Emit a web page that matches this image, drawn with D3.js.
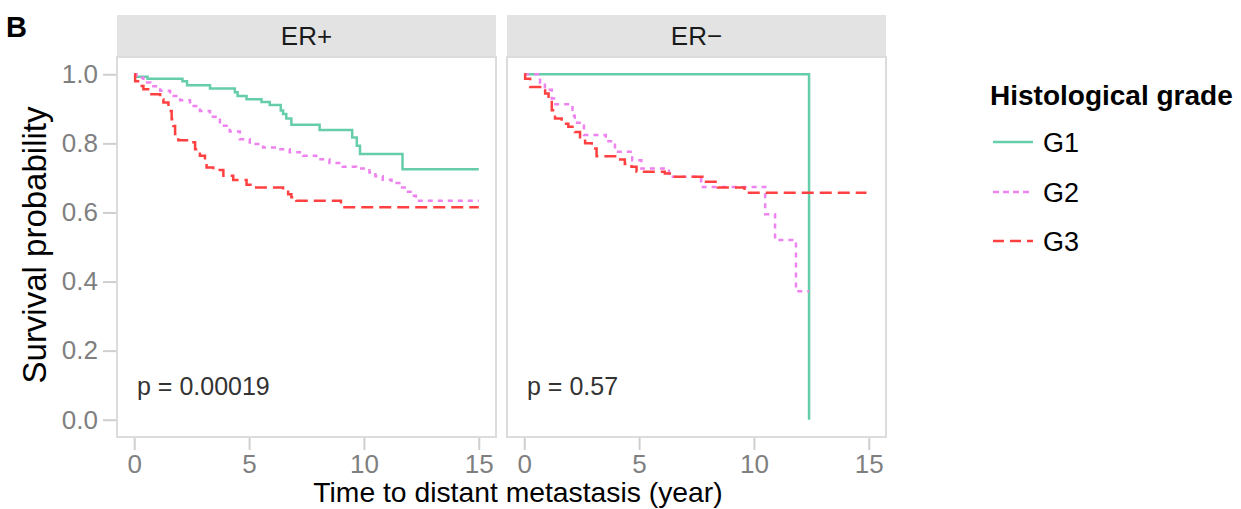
<!DOCTYPE html>
<html><head><meta charset="utf-8">
<script src="https://cdn.jsdelivr.net/npm/d3@7"></script>
<style>body{margin:0;background:#fff}svg{display:block}text{font-family:"Liberation Sans",Arial,Helvetica,sans-serif}</style>
</head><body><div id="chart"></div>
<script>
const panels = ["ER+", "ER\u2212"];
const groups = ["G1", "G2", "G3"];
const pValues = ["p = 0.00019", "p = 0.57"];
const xTicks = [0, 5, 10, 15];
const yTicks = [0, 0.2, 0.4, 0.6, 0.8, 1.0];

// ER+ panel
const erPosG1Time = [0, 0.05, 0.58, 2.1, 2.3, 3.3, 4.38, 4.5, 4.89, 5.54, 5.9, 6.38, 6.48, 6.62, 6.84, 8.07, 9.49, 9.69, 9.83, 11.68, 15];
const erPosG1Surv = [1, 0.993, 0.987, 0.98, 0.968, 0.959, 0.948, 0.937, 0.928, 0.92, 0.911, 0.895, 0.885, 0.872, 0.854, 0.839, 0.817, 0.793, 0.769, 0.725, 0.725];
const erPosG2Time = [0, 0.1, 0.4, 0.7, 1.13, 1.56, 2.0, 2.43, 2.86, 3.3, 3.73, 4.16, 4.6, 5.03, 5.61, 6.19, 6.77, 7.35, 7.92, 8.5, 9.08, 9.66, 10.24, 10.5, 10.82, 11.2, 11.54, 11.85, 12.12, 12.26, 15];
const erPosG2Surv = [1, 0.99, 0.976, 0.965, 0.952, 0.937, 0.925, 0.908, 0.894, 0.877, 0.851, 0.834, 0.812, 0.798, 0.788, 0.783, 0.774, 0.764, 0.754, 0.743, 0.732, 0.727, 0.716, 0.705, 0.695, 0.685, 0.672, 0.66, 0.648, 0.634, 0.634];
const erPosG3Time = [0, 0.04, 0.26, 0.4, 0.69, 1.13, 1.27, 1.49, 1.63, 1.71, 1.78, 1.92, 2.5, 2.65, 2.86, 3.08, 3.15, 3.44, 3.88, 4.31, 4.89, 5.18, 6.48, 6.7, 6.84, 7.06, 9.0, 15];
const erPosG3Surv = [1, 0.98, 0.966, 0.957, 0.942, 0.928, 0.918, 0.894, 0.87, 0.85, 0.827, 0.809, 0.803, 0.783, 0.764, 0.75, 0.73, 0.723, 0.706, 0.694, 0.68, 0.672, 0.665, 0.653, 0.644, 0.634, 0.615, 0.615];

// ER- panel
const erNegG1Time = [0, 12.4];
const erNegG1Surv = [1, 0];
const erNegG2Time = [0, 0.69, 0.9, 1.2, 1.3, 2.1, 2.2, 2.6, 3.55, 3.95, 4.7, 5.1, 6.3, 7.7, 10.49, 10.92, 11.83, 12.4];
const erNegG2Surv = [1, 0.975, 0.955, 0.93, 0.913, 0.88, 0.86, 0.824, 0.806, 0.776, 0.751, 0.727, 0.703, 0.674, 0.595, 0.52, 0.372, 0.372];
const erNegG3Time = [0, 0.04, 0.26, 0.91, 1.06, 1.2, 1.34, 1.63, 1.92, 2.21, 2.43, 2.65, 2.94, 3.15, 4.09, 4.38, 4.67, 4.89, 6.12, 6.41, 7.85, 8.43, 9.59, 14.9];
const erNegG3Surv = [1, 0.987, 0.963, 0.944, 0.925, 0.896, 0.872, 0.857, 0.848, 0.833, 0.814, 0.8, 0.785, 0.763, 0.753, 0.74, 0.732, 0.718, 0.713, 0.703, 0.689, 0.672, 0.657, 0.657];

const curves = [
  [[erPosG1Time, erPosG1Surv], [erPosG2Time, erPosG2Surv], [erPosG3Time, erPosG3Surv]],
  [[erNegG1Time, erNegG1Surv], [erNegG2Time, erNegG2Surv], [erNegG3Time, erNegG3Surv]]
];

const colors = ["#66CDAA", "#EE82EE", "#FF4040"];
const dashes = [null, "5,5", "12,6"];

const W = 1241, H = 509;
const svg = d3.select("#chart").append("svg").attr("width", W).attr("height", H);

const panelX = [117, 507], panelW = 379;
const panelTop = 57, panelBottom = 437, stripTop = 15;

const y = d3.scaleLinear().domain([-0.05, 1.05]).range([panelBottom, panelTop]);

svg.append("text").attr("x", 6).attr("y", 37).attr("font-size", 29).attr("font-weight", "bold").text("B");

panels.forEach((name, pi) => {
  const x0 = panelX[pi];
  const x = d3.scaleLinear().domain([-0.75, 15.75]).range([x0, x0 + panelW]);
  svg.append("rect").attr("x", x0).attr("y", stripTop).attr("width", panelW).attr("height", panelTop - stripTop).attr("fill", "#E3E3E3");
  svg.append("text").attr("x", x0 + panelW / 2).attr("y", panelTop - 12).attr("text-anchor", "middle")
    .attr("font-size", 26).attr("fill", "#1a1a1a").text(name);
  svg.append("rect").attr("x", x0).attr("y", panelTop).attr("width", panelW).attr("height", panelBottom - panelTop)
    .attr("fill", "#fff").attr("stroke", "#DCDCDC").attr("stroke-width", 2);

  const xa = svg.append("g").attr("transform", `translate(0,${panelBottom})`)
    .call(d3.axisBottom(x).tickValues(xTicks).tickSize(12).tickPadding(6).tickFormat(d3.format("d")));
  xa.select(".domain").remove();
  xa.selectAll("line").attr("stroke", "#CFCFCF").attr("stroke-width", 2).attr("transform", "translate(0,1)");
  xa.selectAll("text").attr("font-size", 26).attr("fill", "#7F7F7F").attr("font-family", "Liberation Sans, Arial, sans-serif");

  if (pi === 0) {
    const ya = svg.append("g").attr("transform", `translate(${x0},0)`)
      .call(d3.axisLeft(y).tickValues(yTicks).tickSize(13).tickPadding(6).tickFormat(d3.format(".1f")));
    ya.select(".domain").remove();
    ya.selectAll("line").attr("stroke", "#CFCFCF").attr("stroke-width", 2).attr("transform", "translate(-1,0)");
    ya.selectAll("text").attr("font-size", 26).attr("fill", "#7F7F7F").attr("font-family", "Liberation Sans, Arial, sans-serif");
  }

  const line = d3.line().curve(d3.curveStepAfter).x(d => x(d[0])).y(d => y(d[1]));
  curves[pi].forEach((c, gi) => {
    const pts = c[0].map((t, i) => [t, c[1][i]]);
    const p = svg.append("path").datum(pts).attr("d", line).attr("fill", "none")
      .attr("stroke", colors[gi]).attr("stroke-width", 2.5);
    if (dashes[gi]) p.attr("stroke-dasharray", dashes[gi]);
  });

  svg.append("text").attr("x", x0 + 20).attr("y", 395).attr("font-size", 25).attr("fill", "#333333").text(pValues[pi]);
});

svg.append("text").attr("x", 518).attr("y", 502).attr("text-anchor", "middle").attr("font-size", 28.3).attr("fill", "#000")
  .text("Time to distant metastasis (year)");
svg.append("text").attr("transform", "translate(46,245) rotate(-90)").attr("text-anchor", "middle").attr("font-size", 33).attr("fill", "#000")
  .text("Survival probability");

svg.append("text").attr("x", 990).attr("y", 105).attr("font-size", 28).attr("font-weight", "bold").text("Histological grade");
const legY = [142, 192, 241];
groups.forEach((g, gi) => {
  const l = svg.append("line").attr("x1", 993).attr("x2", 1033).attr("y1", legY[gi]).attr("y2", legY[gi])
    .attr("stroke", colors[gi]).attr("stroke-width", 2.5);
  if (dashes[gi]) l.attr("stroke-dasharray", gi === 1 ? "6,4" : "11,6");
  svg.append("text").attr("x", 1043).attr("y", legY[gi] + 10).attr("font-size", 27).text(g);
});
</script></body></html>
